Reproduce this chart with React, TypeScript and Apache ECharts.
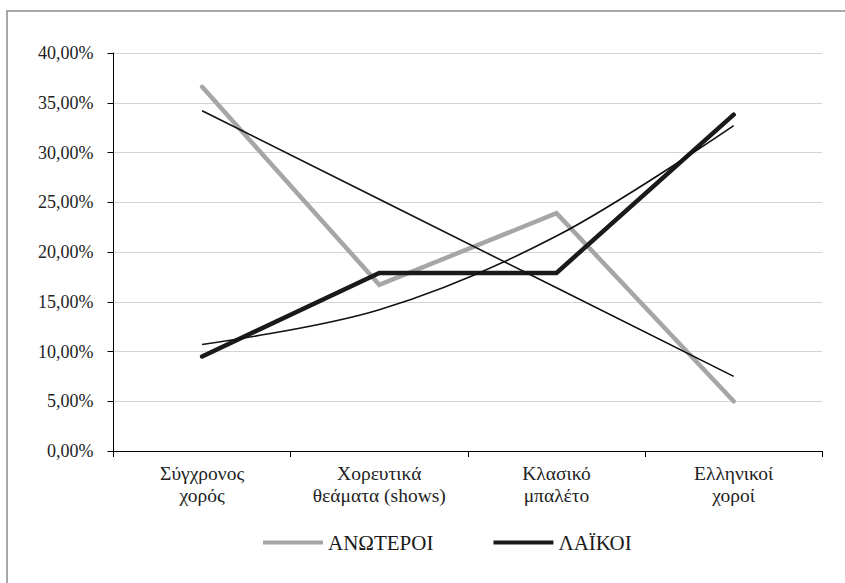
import React, { useEffect, useRef } from "react";
import * as echarts from "echarts";

const categories = [
  "Σύγχρονος\nχορός",
  "Χορευτικά\nθεάματα (shows)",
  "Κλασικό\nμπαλέτο",
  "Ελληνικοί\nχοροί",
];
const anoteroi = [36.6, 16.7, 23.9, 5.0];
const laikoi = [9.5, 17.9, 17.9, 33.8];
const trendAnoteroi = [34.2, 25.3, 16.4, 7.5];
const trendLaikoi = [10.7, 14.2, 21.6, 32.7];
const yTicks = { min: 0, max: 40, interval: 5 };

const FONT = "Liberation Serif";

export default function App() {
  const ref = useRef<HTMLDivElement>(null);
  useEffect(() => {
    document.body.style.margin = "0";
    const chart = echarts.init(ref.current!, undefined, { renderer: "svg" });
    chart.setOption({
      animation: false,
      backgroundColor: "#ffffff",
      graphic: [
        {
          type: "rect",
          shape: { x: 7, y: 11, width: 900, height: 700 },
          style: { fill: "none", stroke: "#8c8c8c", lineWidth: 1.5 },
          silent: true,
        },
      ],
      grid: { left: 113.5, right: 22.7, top: 53, bottom: 132 },
      legend: {
        data: [
          { name: "ΑΝΩΤΕΡΟΙ", itemStyle: { color: "#a6a6a6" } },
          { name: "ΛΑΪΚΟΙ", itemStyle: { color: "#1a1a1a" } },
        ],
        left: 258,
        top: 527,
        icon: "rect",
        itemWidth: 60,
        itemHeight: 4,
        itemGap: 60,
        textStyle: { fontFamily: FONT, fontSize: 21, color: "#1a1a1a" },
      },
      xAxis: {
        type: "category",
        data: categories,
        boundaryGap: true,
        axisLine: { lineStyle: { color: "#000", width: 1 } },
        axisTick: { show: true, length: 6, inside: false, lineStyle: { color: "#000" } },
        axisLabel: {
          fontFamily: FONT,
          fontSize: 19.5,
          color: "#222",
          lineHeight: 22,
          margin: 11,
          interval: 0,
        },
        splitLine: { show: false },
      },
      yAxis: {
        type: "value",
        min: yTicks.min,
        max: yTicks.max,
        interval: yTicks.interval,
        axisLine: { show: true, lineStyle: { color: "#000", width: 1 } },
        axisTick: { show: true, length: 6, lineStyle: { color: "#000" } },
        axisLabel: {
          fontFamily: FONT,
          fontSize: 18,
          color: "#222",
          margin: 20,
          formatter: (v: number) => v.toFixed(2).replace(".", ",") + "%",
        },
        splitLine: { show: true, lineStyle: { color: "#d4d4d4", width: 1 } },
      },
      series: [
        {
          name: "ΑΝΩΤΕΡΟΙ",
          type: "line",
          data: anoteroi,
          symbol: "none",
          lineStyle: { color: "#a6a6a6", width: 4.5, cap: "round", join: "miter" },
          itemStyle: { color: "#a6a6a6" },
          z: 2,
        },
        {
          name: "ΛΑΪΚΟΙ",
          type: "line",
          data: laikoi,
          symbol: "none",
          lineStyle: { color: "#1a1a1a", width: 4.5, cap: "round", join: "miter" },
          itemStyle: { color: "#1a1a1a" },
          z: 3,
        },
        {
          name: "Trend ΑΝΩΤΕΡΟΙ",
          type: "line",
          data: trendAnoteroi,
          symbol: "none",
          lineStyle: { color: "#111", width: 1.6 },
          z: 4,
        },
        {
          name: "Trend ΛΑΪΚΟΙ",
          type: "line",
          data: trendLaikoi,
          symbol: "none",
          smooth: 0.34,
          lineStyle: { color: "#111", width: 1.6 },
          z: 4,
        },
      ],
    });
    return () => chart.dispose();
  }, []);
  return (
    <div
      ref={ref}
      style={{ position: "absolute", left: 0, top: 0, width: 845, height: 583 }}
    />
  );
}
